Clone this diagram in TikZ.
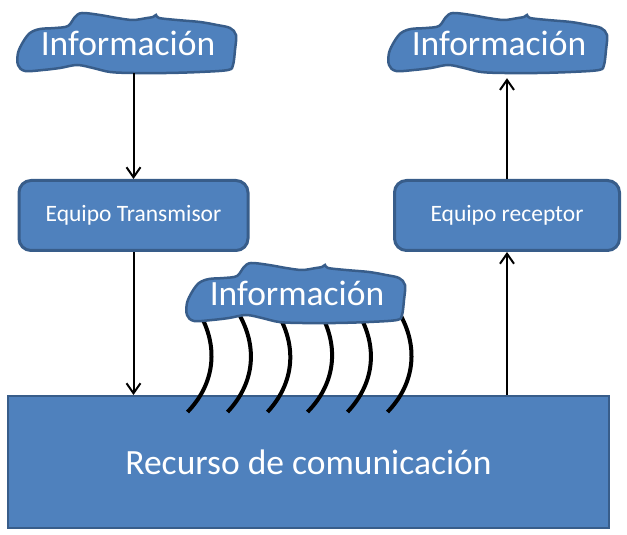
\documentclass[tikz,border=0pt]{standalone}
\usepackage{fontspec}
\setmainfont{Carlito}
\usepackage{tikz}
\usetikzlibrary{arrows.meta, positioning}
\definecolor{officeblue}{RGB}{79,129,189}
\definecolor{officeline}{RGB}{56,93,138}
\tikzset{
    equipo/.style={rectangle, rounded corners=12pt, minimum width=229pt, minimum height=70pt, text centered, draw=officeline, line width=3pt, fill=officeblue, text=white, font=\fontsize{23.5}{27}\selectfont},
    medio/.style={rectangle, minimum width=601pt, minimum height=132pt, text centered, draw=officeline, line width=2pt, fill=officeblue, text=white, font=\fontsize{35.5}{40}\selectfont},
    infotext/.style={minimum width=220pt, minimum height=60pt, inner sep=0pt, text=white, font=\fontsize{35.5}{40}\selectfont},
    nubeline/.style={draw=officeline, line width=2.5pt, fill=officeblue},
    nube/.pic={\path[nubeline] plot[smooth cycle, tension=0.55] coordinates {
        (-53,26) (-46,30) (-28,28) (-11,25) (5,23) (19,25) (25,26) (28,28) (31,25)
        (49,23) (72,21) (89,18) (102,15) (108,8) (107,-7) (105,-22) (100,-27)
        (72,-29) (39,-30) (5,-30) (-18,-29) (-35,-25) (-51,-22) (-68,-25) (-85,-27)
        (-103,-28) (-110,-22) (-110,-10) (-105,1) (-98,10) (-88,14) (-73,15) (-60,17)};},
    flow/.style={-{Straight Barb[length=10pt,width=14pt]}, line width=2pt},
    onda/.style={line width=4pt}
}

\begin{document}
\begin{tikzpicture}[x=1pt, y=1pt]
    \useasboundingbox (0,0) rectangle (627,535);

    % Recurso de comunicacion
    \node[medio] (recurso) at (308.5,73) {Recurso de comunicación};
    \coordinate (centro3) at (297,242);

    % Ondas hacia el medio
    \foreach \xb/\xt in {188/201, 228/240, 268/279, 308/322, 348/360, 388/401}
        \draw[onda] ([shift={(\xb-7.5,-17)}]recurso.north west) to[bend right=36] ([shift={(\xt-297,-23)}]centro3);

    % Nubes de informacion
    \pic at (128,492) {nube};
    \node[infotext] (info1) at (128,492) {Información};
    \pic at (499,492) {nube};
    \node[infotext] (info2) at (499,492) {Información};
    \pic at (centro3) {nube};
    \node[infotext] (info3) at (centro3) {Información};

    % Equipos
    \node[equipo] (trans) at (133.5,319.5) {Equipo Transmisor};
    \node[equipo, minimum width=225pt] (recep) at (507,319.5) {Equipo receptor};

    % Flujos
    \draw[flow] (info1.south -| trans.north) -- (trans.north);
    \draw[flow] (trans.south) -- (trans.south |- recurso.north);
    \draw[flow] (recep.south |- recurso.north) -- (recep.south);
    \draw[flow] (recep.north) -- ([yshift=-5pt]recep.north |- info2.south);
\end{tikzpicture}
\end{document}
